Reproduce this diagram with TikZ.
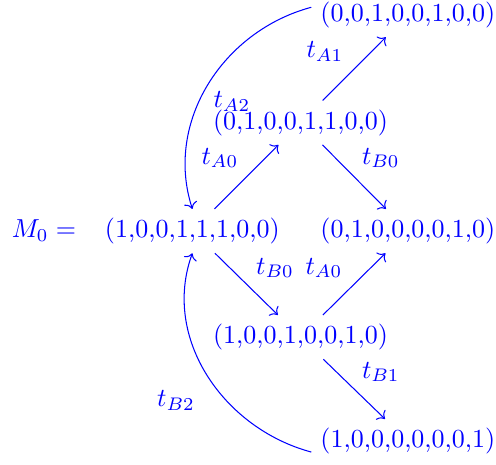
\documentclass[tikz,border=0pt]{standalone}
\usetikzlibrary{arrows.meta}
\begin{document}
\begin{tikzpicture}[x=1pt,y=1pt,
  every node/.style={text=blue},
  marking/.style={inner sep=3.33pt},
  lbl/.style={inner sep=0pt},
  arr/.style={draw=blue,line width=0.4pt,->}]
\useasboundingbox (0,0) rectangle (190.8,178.5);
\node[marking] (n0) at (74.0,89.6) {(1,0,0,1,1,1,0,0)};
\node[anchor=base] (m0) at (16.9,87.1) {$M_0 =$};
\node[marking] (n1) at (115.6,131.3) {(0,1,0,0,1,1,0,0)};
\node[marking] (n2) at (156.9,172.7) {(0,0,1,0,0,1,0,0)};
\node[marking] (n3) at (156.9,89.6) {(0,1,0,0,0,0,1,0)};
\node[marking] (n4) at (115.6,48.8) {(1,0,0,1,0,0,1,0)};
\node[marking] (n5) at (156.9,8.8) {(1,0,0,0,0,0,0,1)};
\draw[arr] (n0) -- (n1);
\draw[arr] (n1) -- (n2);
\draw[arr] (n1) -- (n3);
\draw[arr] (n0) -- (n4);
\draw[arr] (n4) -- (n3);
\draw[arr] (n4) -- (n5);
\draw[arr] ([yshift=3pt]n2.west) to[out=195,in=108] (n0.north);
\draw[arr] ([yshift=-4.2pt]n5.west) to[out=165,in=250] (n0.south);
\node[lbl] (la0) at (84.6,117.7) {$t_{A0}$};
\node[lbl] (la2) at (89.2,139.6) {$t_{A2}$};
\node[lbl] (la1) at (125.0,158.8) {$t_{A1}$};
\node[lbl] (lb0) at (146.5,117.7) {$t_{B0}$};
\node[lbl] (lb0b) at (105.8,75.4) {$t_{B0}$};
\node[lbl] (la0b) at (124.6,75.4) {$t_{A0}$};
\node[lbl] (lb1) at (146.5,35.4) {$t_{B1}$};
\node[lbl] (lb2) at (67.7,24.6) {$t_{B2}$};
\end{tikzpicture}
\end{document}
